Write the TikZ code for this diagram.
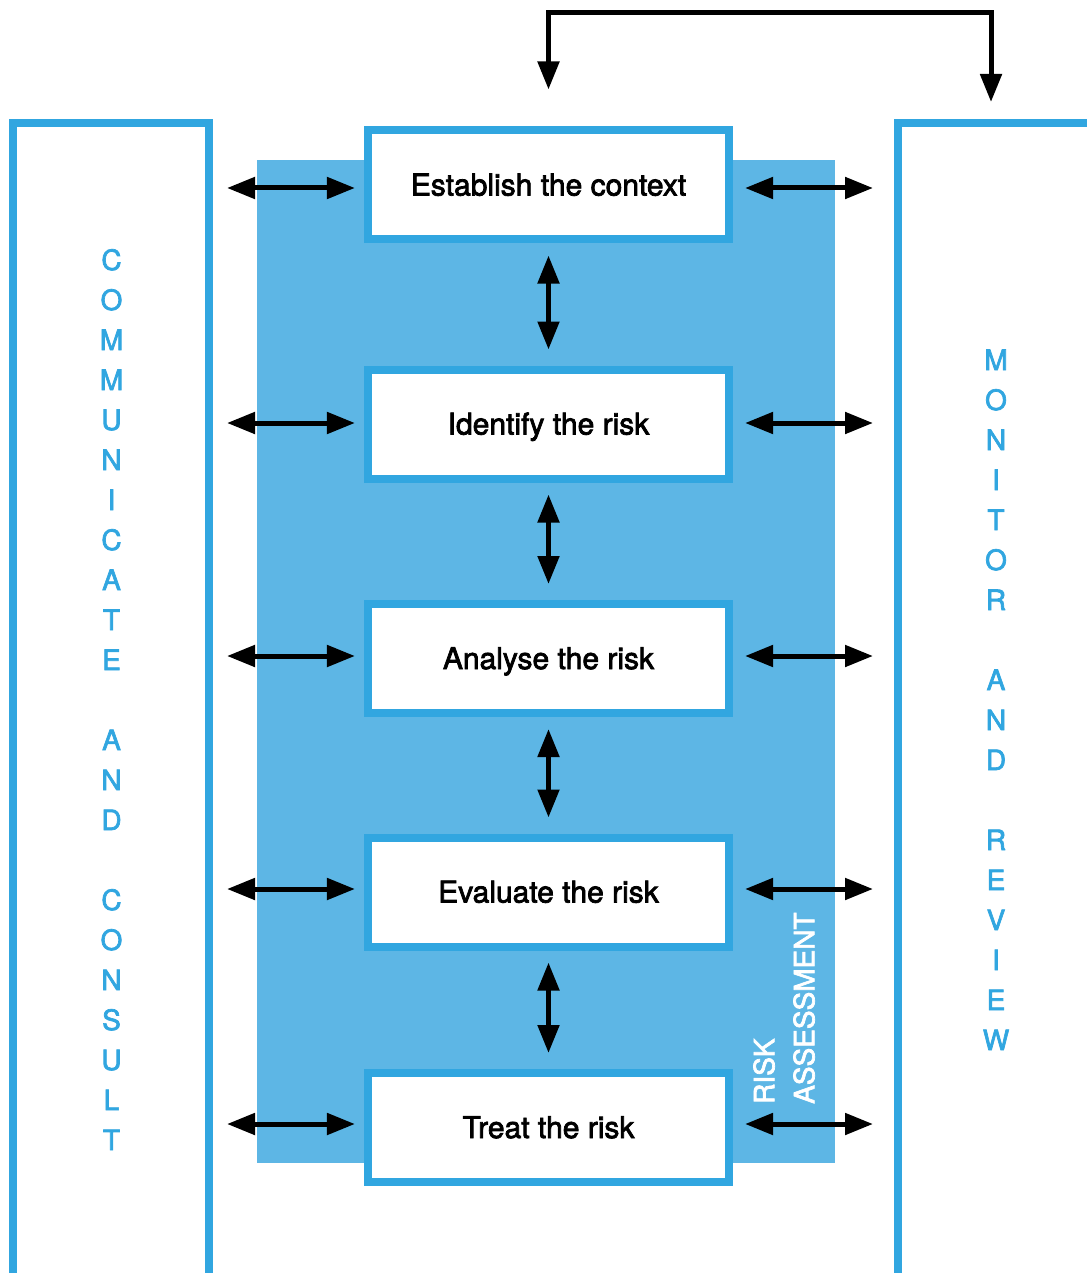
\documentclass[tikz,border=0pt]{standalone}
\usepackage{fontspec}
\setmainfont{TeX Gyre Heros}
\newfontfamily\medfont[FakeBold=2.5]{TeX Gyre Heros}
\usetikzlibrary{arrows.meta}
\definecolor{bline}{HTML}{31A6E0}
\definecolor{bfill}{HTML}{5DB6E5}
\begin{document}
\begin{tikzpicture}[x=1pt,y=-1pt,
  stepbox/.style={draw=bline, line width=8pt, fill=white, minimum width=360.5pt,
    minimum height=109pt, inner sep=0pt, text height=21pt, text depth=0pt,
    font=\medfont\fontsize{30}{35}\selectfont},
  dbl/.style={line width=5pt, {Triangle[length=28pt,width=21pt]}-{Triangle[length=28pt,width=21pt]}},
  panel/.style={draw=bline, line width=8pt},
  letter/.style={text=bline, anchor=base, inner sep=0pt, font=\medfont\fontsize{28}{34}\selectfont}]
\useasboundingbox (0,0) rectangle (1086,1273);
% risk assessment background
\fill[bfill] (257,160.5) rectangle (835,1163);
% side panels
\draw[panel] (13,123.5) rectangle (209,1276.5);
\draw[panel] (898,123.5) rectangle (1110,1276.5);
% process steps
\node[stepbox] (b1) at (548.5,185) {Establish the context};
\node[stepbox] (b2) at (548.5,424) {Identify the risk};
\node[stepbox] (b3) at (548.5,658.5) {Analyse the risk};
\node[stepbox] (b4) at (548.5,892) {Evaluate the risk};
\node[stepbox] (b5) at (548.5,1127.5) {Treat the risk};
% vertical arrows
\foreach \a/\b in {b1/b2,b2/b3,b3/b4,b4/b5}
  \draw[dbl] ([yshift=-12pt]\a.south) -- ([yshift=16pt]\b.north);
% horizontal arrows
\foreach \i/\y in {1/188,2/423,3/656,4/889,5/1124} {
  \coordinate (L\i) at (227,\y);
  \coordinate (R\i) at (873,\y);
  \draw[dbl, shorten >=9.3pt] (L\i) -- (L\i -| b\i.west);
  \draw[dbl, shorten <=12.3pt] (R\i -| b\i.east) -- (R\i);
}
% top feedback connector
\coordinate (tA) at ([yshift=37pt]b1.north);
\coordinate (tB) at (991,102);
\draw[dbl] (tA) -- ++(0,-77) -| (tB);
% left panel text
\foreach \c/\k in {C/0,O/1,M/2,M/3,U/4,N/5,I/6,C/7,A/8,T/9,E/10,A/12,N/13,D/14,C/16,O/17,N/18,S/19,U/20,L/21,T/22}
  \node[letter] (cl\k) at (111.5,{270+40*\k}) {\c};
% right panel text
\foreach \c/\k in {M/0,O/1,N/2,I/3,T/4,O/5,R/6,A/8,N/9,D/10,R/12,E/13,V/14,I/15,E/16,W/17}
  \node[letter] (mr\k) at (996,{370+40*\k}) {\c};
% risk assessment label
\node[rotate=90, anchor=south west, inner sep=0pt, text=white, align=left,
  font=\medfont\fontsize{28}{40}\selectfont] (ra) at (815,1104) {RISK\\ASSESSMENT};
\end{tikzpicture}
\end{document}
